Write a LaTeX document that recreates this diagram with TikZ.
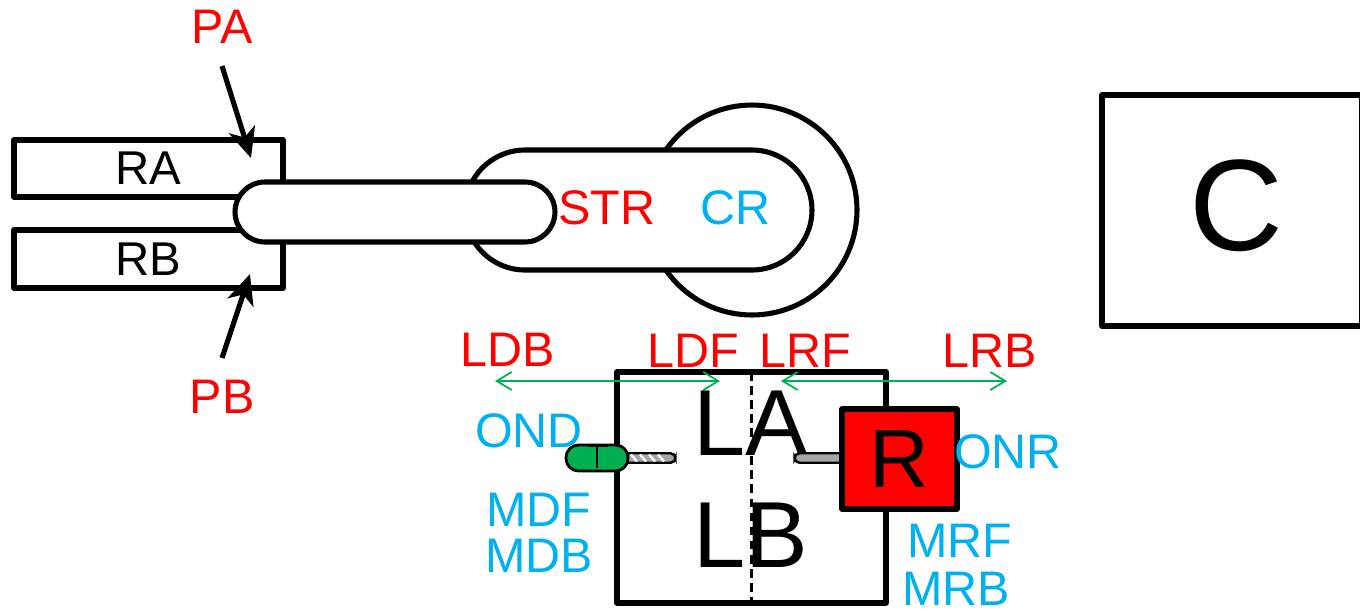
\documentclass[tikz,border=0pt]{standalone}
\usepackage{fontspec}
\setmainfont{Liberation Sans}
\usepackage{xcolor}
\usetikzlibrary{arrows.meta,positioning}
\definecolor{softred}{RGB}{255,0,0}
\definecolor{softcyan}{RGB}{0,176,240}
\definecolor{softgreen}{RGB}{0,176,80}
\definecolor{softgray}{RGB}{166,166,166}
\tikzset{
	block/.style={draw, line width=2.9pt, fill=white, inner sep=0pt, outer sep=0pt, line join=round},
	redlabel/.style={text=softred, font=\fontsize{27.6}{27.6}\selectfont, inner sep=0pt},
	cyanlabel/.style={text=softcyan, font=\fontsize{27.6}{27.6}\selectfont, inner sep=0pt},
	travel/.style={{Straight Barb[length=3mm, width=3.6mm]}-{Straight Barb[length=3mm, width=3.6mm]}, softgreen, line width=1pt},
	force/.style={-{Stealth[length=6mm, width=5.4mm, inset=1.7mm]}, line width=2.9pt}
}

\begin{document}
\begin{tikzpicture}[x=0.02cm, y=-0.02cm]
	\useasboundingbox (0,0) rectangle (1360,610);
	% rails and arm
	\node[block, minimum width=5.38cm, minimum height=1.14cm, font=\fontsize{27}{27}\selectfont] (ra) at (148.5,168.5) {RA};
	\node[block, minimum width=5.38cm, minimum height=1.16cm, font=\fontsize{27}{27}\selectfont] (rb) at (148.5,259) {RB};
	\node[block, circle, minimum size=4.2cm] (cr circle) at (752,210) {};
	\node[block, rounded corners=1.2cm, minimum width=6.94cm, minimum height=2.4cm] (cr arm) at (638.5,210) {};
	\node[block, rounded corners=0.6cm, minimum width=6.4cm, minimum height=1.2cm] (str arm) at (395,212) {};
	\node[redlabel] (str) at (607,208) {STR};
	\node[cyanlabel] (cr) at (736,208) {CR};
	% pressure arrows
	\node[redlabel] (pa) at (222,27) {PA};
	\node[redlabel] (pb) at (222,397) {PB};
	\coordinate (pa tip) at (251,158);
	\coordinate (pb tip) at (250,274);
	\draw[force] ([yshift=-0.44cm]pa.south) -- (pa tip);
	\draw[force] ([yshift=0.44cm]pb.north) -- (pb tip);
	% camera
	\node[block, minimum width=5.2cm, minimum height=4.62cm] (c) at (1232,210.5) {};
	\node[font=\fontsize{74}{74}\selectfont, inner sep=0pt] (c text) at (1236,206) {C};
	% lens box
	\node[block, minimum width=5.38cm, minimum height=4.62cm] (lens) at (751.5,487.5) {};
	\draw[line width=1.2pt, dash pattern=on 5pt off 3pt] (lens.north) -- (lens.south);
	\node[font=\fontsize{53.4}{53.4}\selectfont, inner sep=0pt] (la) at (751,423) {LA};
	\node[font=\fontsize{53.4}{53.4}\selectfont, inner sep=0pt] (lb) at (751,535) {LB};
	% drive motor
	\node[draw, line width=1.4pt, fill=softgray, rounded corners=0.1cm, minimum width=1.1cm, minimum height=0.19cm, inner sep=0pt] (dshaft) at (648,458) {};
	\foreach \hx in {631,640,649,658}
		\draw[white, line width=1.4pt] (\hx,454.5) -- (\hx+6,461.5);
	\node[draw, line width=1.6pt, fill=softgreen, rounded corners=0.25cm, minimum width=1.24cm, minimum height=0.52cm, inner sep=0pt] (dmotor) at (597,458) {};
	\draw[line width=1.6pt] (597,447) -- (597,468);
	\draw[line width=1.4pt] (588,446) -- (608,446);
	% rotation motor
	\node[draw, line width=1.4pt, fill=softgray, rounded corners=0.1cm, minimum width=1.1cm, minimum height=0.19cm, inner sep=0pt] (rshaft) at (822,458) {};
	\node[block, fill=softred, minimum width=2.3cm, minimum height=2cm, font=\fontsize{47}{47}\selectfont] (r) at (899.5,459) {R};
	% travel ranges
	\node[redlabel] (ldb) at (508,350) {LDB};
	\node[redlabel] (ldf) at (693,351) {LDF};
	\node[redlabel] (lrf) at (805,351) {LRF};
	\node[redlabel] (lrb) at (990,351) {LRB};
	\coordinate (ldb end) at (495,381);
	\coordinate (ldf end) at (720,381);
	\coordinate (lrf end) at (781,381);
	\coordinate (lrb end) at (1007,381);
	\draw[travel] (ldb end) -- (ldf end);
	\draw[travel] (lrf end) -- (lrb end);
	% signals
	\node[cyanlabel] (ond) at (529,431) {OND};
	\node[cyanlabel] (mdf) at (539,510) {MDF};
	\node[cyanlabel] (mdb) at (539,556) {MDB};
	\node[cyanlabel] (onr) at (1008,452) {ONR};
	\node[cyanlabel] (mrf) at (960,541) {MRF};
	\node[cyanlabel] (mrb) at (956,589) {MRB};
\end{tikzpicture}
\end{document}
